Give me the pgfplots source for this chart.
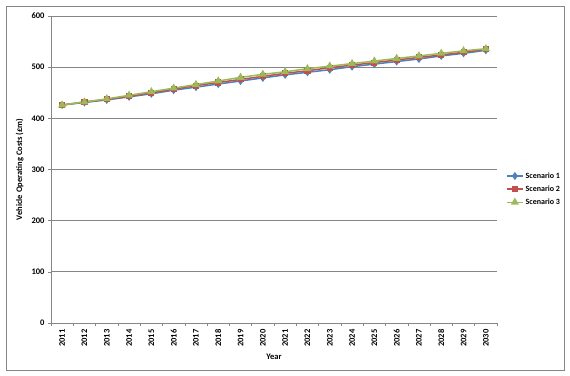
\documentclass[border=0pt]{standalone}
\usepackage{pgfplots}
\pgfplotsset{compat=1.18}
\usepackage{fontspec}
\setmainfont{Carlito}
\definecolor{s1}{HTML}{4F81BD}
\definecolor{s2}{HTML}{C0504D}
\definecolor{s3}{HTML}{9BBB59}
\definecolor{gridc}{HTML}{868686}
\begin{document}
\begin{tikzpicture}
\path[use as bounding box] (-51pt,-52pt) rectangle (519pt,323pt);
\begin{axis}[
  at={(0pt,0pt)}, anchor=south west,
  scale only axis, width=446pt, height=307pt,
  xmin=-0.5, xmax=19.5, ymin=0, ymax=600,
  xtick={0,...,19},
  xticklabels={2011,2012,2013,2014,2015,2016,2017,2018,2019,2020,2021,2022,2023,2024,2025,2026,2027,2028,2029,2030},
  minor xtick={-0.5,0.5,...,19.5},
  ytick={0,100,...,600},
  major x tick style={draw=none},
  minor tick length=3pt, major tick length=3pt,
  tick align=outside,
  axis x line*=bottom, axis y line*=left,
  axis line style={gridc, line width=0.7pt},
  tick style={gridc, line width=0.6pt},
  minor tick style={gridc, line width=0.6pt},
  ymajorgrids, grid style={gridc, line width=0.7pt},
  ticklabel style={font=\bfseries\fontsize{8.5}{10}\selectfont, text=black},
  /pgf/number format/assume math mode=true,
  x tick label style={rotate=90, anchor=east},
  xlabel={Year},
  xlabel style={font=\bfseries\fontsize{8.5}{10}\selectfont, at={(axis description cs:0.5,-0.111)}, anchor=center},
  ylabel={Vehicle Operating Costs (£m)},
  ylabel style={font=\bfseries\fontsize{8.5}{10}\selectfont, at={(axis description cs:-0.07,0.5)}, anchor=center},
  legend style={draw=none, fill=none, at={(axis description cs:1.02,0.436)}, anchor=west,
    font=\bfseries\fontsize{8}{9.5}\selectfont, row sep=2pt, inner sep=0pt},
  legend cell align=left,
  legend image code/.code={\draw[mark repeat=2,mark phase=2] plot coordinates {(0pt,0pt) (8pt,0pt) (16pt,0pt)};},
  every axis plot/.append style={line width=1.5pt},
]
\addplot[s1, mark=diamond*, mark size=2.8pt] coordinates {
(0,426) (1,431) (2,436) (3,442) (4,448) (5,455) (6,461) (7,467) (8,473) (9,479)
(10,485) (11,490) (12,495) (13,501) (14,506) (15,511) (16,516) (17,522) (18,527) (19,533)};
\addlegendentry{Scenario 1}
\addplot[s2, mark=square*, mark size=2.3pt] coordinates {
(0,426) (1,432) (2,437) (3,443) (4,450) (5,457) (6,464) (7,470) (8,476) (9,482)
(10,488) (11,493) (12,499) (13,504) (14,509) (15,514) (16,519) (17,524) (18,529) (19,535)};
\addlegendentry{Scenario 2}
\addplot[s3, mark=triangle*, mark size=3.2pt] coordinates {
(0,426) (1,432) (2,438) (3,445) (4,452) (5,459) (6,466) (7,473) (8,480) (9,486)
(10,491) (11,497) (12,502) (13,507) (14,512) (15,517) (16,522) (17,527) (18,532) (19,536)};
\addlegendentry{Scenario 3}
\end{axis}
\draw[gridc, line width=0.8pt] (-45pt,-47pt) rectangle (513pt,317pt);
\end{tikzpicture}
\end{document}
